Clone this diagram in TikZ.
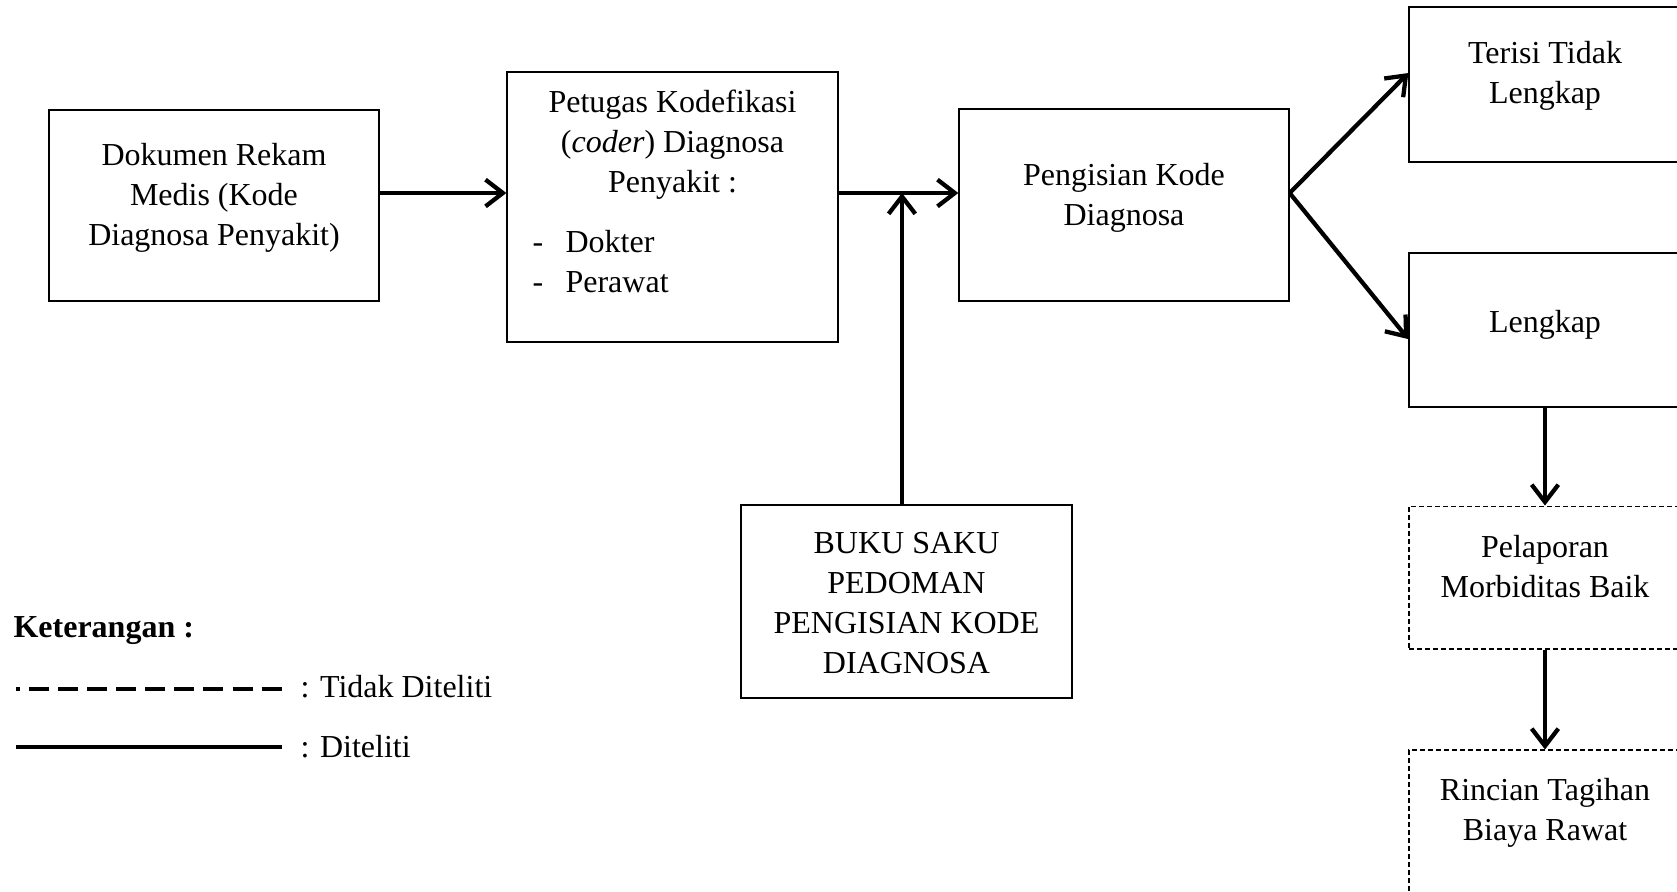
\documentclass[tikz,border=0pt]{standalone}
\usepackage{fontspec}
\setmainfont{Liberation Serif}
\usetikzlibrary{arrows.meta,positioning,calc}

\begin{document}
\begin{tikzpicture}[x=0.375pt,y=-0.375pt,
    kotak/.style={draw,line width=0.5pt,inner sep=0pt,minimum width=123.75pt},
    kotakputus/.style={kotak,line width=0.4pt,dash pattern=on 1.9pt off 1.1pt,minimum width=102pt},
    teks/.style={inner sep=0pt,align=center,anchor=north,font=\fontsize{12}{15}\selectfont},
    ket/.style={inner sep=0pt,anchor=base west,font=\fontsize{12}{15}\selectfont},
    alir/.style={line width=1.6pt,-{Straight Barb[length=6.5pt,width=10pt]}}]
  \path[use as bounding box,clip] (0,0) rectangle (1677,891);

  \node[kotak,minimum height=71.6pt] (dok) at (214,205.5) {};
  \node[teks] (doktxt) at (214,143) {Dokumen Rekam\\Medis (Kode\\Diagnosa Penyakit)};
  \node[kotak,minimum width=124.1pt,minimum height=101.25pt] (koder) at (672.5,207) {};
  \node[teks] (kodertxt) at (672.5,89) {Petugas Kodefikasi\\(\textit{coder}) Diagnosa\\Penyakit :};
  \node[teks,anchor=north west,align=left] (koderlist) at (532,230)
    {\makebox[12.4pt][l]{-}Dokter\\\makebox[12.4pt][l]{-}Perawat};
  \node[kotak,minimum height=72pt] (isi) at (1124,205) {};
  \node[teks] (isitxt) at (1124,163) {Pengisian Kode\\Diagnosa};
  \node[kotak,minimum width=124.1pt,minimum height=72.4pt] (buku) at (906.5,601.5) {};
  \node[teks] (bukutxt) at (906.5,532) {BUKU SAKU\\PEDOMAN\\PENGISIAN KODE\\DIAGNOSA};

  \node[kotak,minimum width=102pt,minimum height=58.1pt] (tidak) at (1545,84.5) {};
  \node[teks] (tidaktxt) at (1545,41) {Terisi Tidak\\Lengkap};
  \node[kotak,minimum width=102pt,minimum height=57.75pt] (lengkap) at (1545,330) {};
  \node[teks] (lengkaptxt) at (1545,310) {Lengkap};
  \node[kotakputus,minimum height=53.6pt] (lapor) at (1545,577.5) {};
  \node[teks] (laportxt) at (1545,535) {Pelaporan\\Morbiditas Baik};
  \node[kotakputus,minimum height=60pt] (tagih) at (1545,830) {};
  \node[teks] (tagihtxt) at (1545,778) {Rincian Tagihan\\Biaya Rawat};

  \coordinate (jalur) at (0,193);
  \draw[alir] (dok.east |- jalur) -- (koder.west |- jalur);
  \draw[alir] (koder.east |- jalur) -- (isi.west |- jalur);
  \draw[alir] ([xshift=-1.7pt]buku.north) -- ([xshift=-1.7pt]buku.north |- jalur);
  \draw[alir] (isi.east |- jalur) -- ([yshift=4.3pt]tidak.west);
  \draw[alir] (isi.east |- jalur) -- ([yshift=-3.4pt]lengkap.west);
  \draw[alir] (lengkap.south) -- (lapor.north);
  \draw[alir] (lapor.south) -- (tagih.north);

  \node[ket,font=\fontsize{12}{15}\selectfont\bfseries] (keterangan) at (13,637) {Keterangan :};
  \node[ket] (tidakditeliti) at (300,697) {: Tidak Diteliti};
  \node[ket] (diteliti) at (300,757) {: Diteliti};
  \draw[line width=1.5pt,dash pattern=on 7.5pt off 3.4pt,dash phase=6pt] (16,689) -- (282,689);
  \draw[line width=1.6pt] (16,747) -- (282,747);
\end{tikzpicture}
\end{document}
